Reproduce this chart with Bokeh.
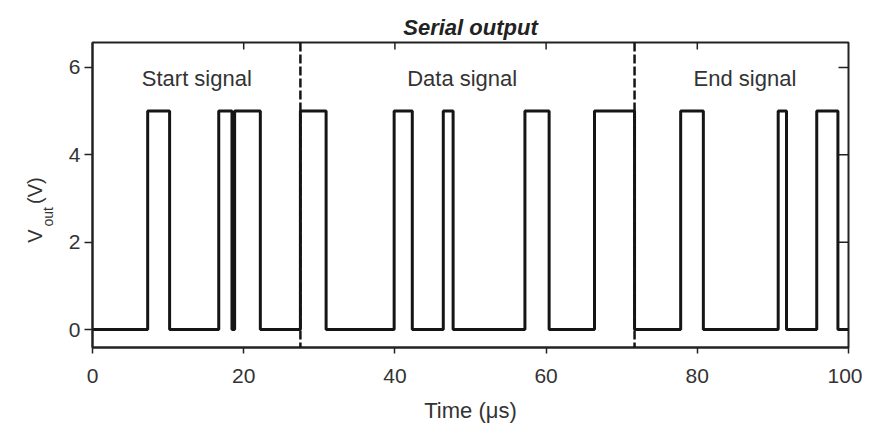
import math
from bokeh.plotting import figure
from bokeh.models import Span, Label, FixedTicker
from bokeh.embed import file_html
from bokeh.resources import INLINE

# ---- data ----
edge_times = [0, 7.3, 10.2, 16.7, 18.45, 18.8, 22.2, 27.5, 30.9, 39.9, 42.3,
              46.4, 47.7, 57.2, 60.4, 66.4, 71.7, 77.8, 80.8, 90.7, 91.8,
              95.8, 98.6, 100]
levels = [0, 5, 0, 5, 0, 5, 0, 5, 0, 5, 0,
          5, 0, 5, 0, 5, 0, 5, 0, 5, 0,
          5, 0, 0]
boundaries = [27.5, 71.7]
section_names = ["Start signal", "Data signal", "End signal"]
section_x = [13.8, 48.9, 86.3]
section_y = 5.75
x_ticks = [0, 20, 40, 60, 80, 100]
y_ticks = [0, 2, 4, 6]
y_label_main = "V\u2002\u2002 (V)\u2002\u2002\u2002"   # gap holds the subscript
y_label_sub = "out"

X0, X1 = 0, 100
Y0, Y1 = -0.41, 6.57
FONT = "Liberation Sans"
TXT = "#333333"
INK = "#151515"

W, H = 862, 425
ML, MR, MT, MB = 92, 14, 42, 78
p = figure(width=W, height=H, x_range=(X0, X1), y_range=(Y0, Y1),
           output_backend="svg", toolbar_location=None,
           min_border_left=ML, min_border_right=MR,
           min_border_top=MT, min_border_bottom=MB)

px_x = (W - ML - MR) / (X1 - X0)   # pixels per x unit
px_y = (H - MT - MB) / (Y1 - Y0)   # pixels per y unit

p.title.text = "Serial output"
p.title.align = "center"
p.title.text_font = FONT
p.title.text_font_size = "22px"
p.title.text_font_style = "bold italic"
p.title.text_color = "#222222"
p.title.standoff = 5

p.grid.visible = False
p.outline_line_color = "#222222"
p.outline_line_width = 2
p.background_fill_color = "white"
p.border_fill_color = "white"

for ax in (p.xaxis[0], p.yaxis[0]):
    ax.axis_line_color = "#222222"
    ax.axis_line_width = 2
    ax.major_tick_line_color = "#222222"
    ax.major_tick_line_width = 1.5
    ax.minor_tick_line_color = None
    ax.major_label_text_font = FONT
    ax.major_label_text_font_size = "21px"
    ax.major_label_text_color = TXT
    ax.major_tick_in = 0
    ax.axis_label_text_font = FONT
    ax.axis_label_text_font_size = "22px"
    ax.axis_label_text_font_style = "normal"
    ax.axis_label_text_color = TXT

p.xaxis.ticker = FixedTicker(ticks=x_ticks)
p.yaxis.ticker = FixedTicker(ticks=y_ticks)
p.xaxis.major_tick_out = 6
p.yaxis.major_tick_out = 8
p.xaxis.major_label_standoff = 15
p.yaxis.major_label_standoff = 4
p.xaxis.axis_label = "Time (\u03bcs)"
p.xaxis.axis_label_standoff = 12
p.yaxis.axis_label = y_label_main
p.yaxis.axis_label_text_font_size = "20px"
p.yaxis.axis_label_standoff = 20

# subscript of the y label, placed in the left panel so it is not clipped
p.add_layout(Label(x=-45 / px_x, y=2.58, text=y_label_sub, angle=math.pi / 2,
                   text_align="center", text_baseline="middle", text_font=FONT,
                   text_font_size="14px", text_color=TXT), "left")

# inner ticks on top and right edges of the frame
top_len = 7 / px_y
right_len = 10 / px_x
inner_x = x_ticks[1:-1]
inner_y = y_ticks[1:]
p.segment(x0=inner_x, y0=[Y1] * len(inner_x), x1=inner_x, y1=[Y1 - top_len] * len(inner_x),
          line_color="#222222", line_width=1.5)
p.segment(x0=[X1] * len(inner_y), y0=inner_y, x1=[X1 - right_len] * len(inner_y), y1=inner_y,
          line_color="#222222", line_width=1.5)

# signal
p.step(edge_times, levels, mode="after", line_width=3, line_color=INK)

# boundaries
for b in boundaries:
    p.add_layout(Span(location=b, dimension="height", line_color=INK,
                      line_width=2.5, line_dash="9 3"))

# section labels
for name, sx in zip(section_names, section_x):
    p.add_layout(Label(x=sx, y=section_y, text=name, text_align="center",
                       text_baseline="middle", text_font=FONT, text_font_size="22px",
                       text_color=TXT))

open("out.html", "w").write(file_html(p, INLINE))
